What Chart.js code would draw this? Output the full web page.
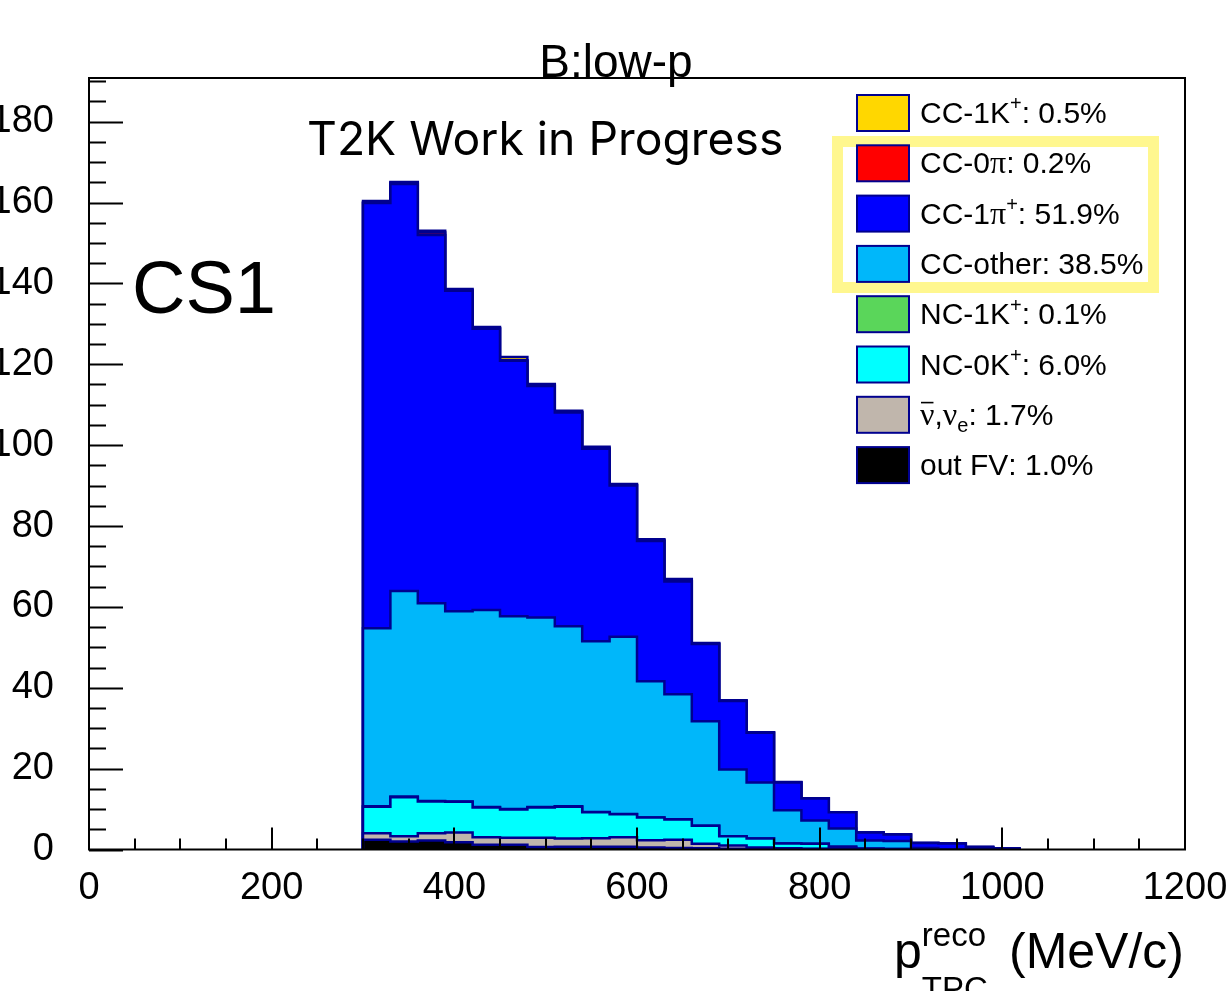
<!DOCTYPE html>
<html><head><meta charset="utf-8">
<script src="https://cdn.jsdelivr.net/npm/chart.js@4.4.1/dist/chart.umd.min.js"></script>
<style>html,body{margin:0;padding:0;background:#fff;overflow:hidden}#wrap{position:relative;width:1230px;height:991px}</style>
</head><body><div id="wrap"><canvas id="c"></canvas></div>
<script>
// Bin edges (MeV/c), 30 MeV/c bins from 300 to 1020
const binEdges = [300,330,360,390,420,450,480,510,540,570,600,630,660,690,720,750,780,810,840,870,900,930,960,990,1020];
// Per-bin contents for bins 300-330 ... 990-1020
const outFV    = [2.4,2.0,2.2,1.8,1.2,1.2,0.6,0.7,0.7,0.7,0.5,0.4,0.3,0.2,0.2,0.1,0.1,0.1,0.1,0,0,0,0,0];
const nuBarNuE = [1.6,1.3,1.8,2.4,1.8,1.7,2.3,2.0,2.1,2.3,1.8,2.0,1.1,0.8,0.3,0.2,0.1,0.1,0,0,0,0,0,0];
const nc0K     = [6.6,9.6,7.9,7.6,7.4,7.0,7.5,7.9,6.4,5.7,5.6,5.0,4.5,2.3,2.2,1.2,1.2,0.5,0.1,0.1,0,0,0,0];
const nc1K     = [0.1,0.2,0.1,0.1,0.1,0.1,0.1,0.1,0.1,0.1,0,0.1,0,0,0,0,0,0,0,0,0,0,0,0];
const ccOther  = [44.0,50.8,48.9,47.0,48.7,47.7,46.9,44.5,42.2,43.8,33.7,30.9,25.8,16.5,13.9,8.2,5.8,4.5,2.0,2.0,0.4,0,0,0];
const cc1pi    = [105.2,100.7,91.1,79.3,69.6,63.2,57.2,52.9,47.6,37.4,34.7,27.9,19.1,16.9,12.3,6.9,5.4,4.0,2.0,1.6,1.2,1.5,0.6,0.3];
const cc0pi    = [0.1,0.3,0.6,0.1,0.1,0.1,0.2,0.1,0.1,0.1,0.2,0.1,0.1,0,0,0,0,0,0,0,0,0,0,0];
const cc1K     = [0.4,0.2,0.4,0.3,0.3,0.8,0.3,0.3,0.4,0.3,0.2,0.5,0.2,0.2,0.1,0.1,0.1,0,0,0,0,0,0,0];

const xTickValues = [0,200,400,600,800,1000,1200];
const yTickValues = [0,20,40,60,80,100,120,140,160,180];

const titleText = 'B:low-p';
const watermark = 'T2K Work in Progress';
const sampleLabel = 'CS1';

// Legend (top to bottom)
const legendPercents = ['0.5%','0.2%','51.9%','38.5%','0.1%','6.0%','1.7%','1.0%'];
const legendNames = [
  [['CC-1K'],['+','sup']],
  [['CC-0'],['\u03C0','sym']],
  [['CC-1'],['\u03C0','sym'],['+','sup']],
  [['CC-other']],
  [['NC-1K'],['+','sup']],
  [['NC-0K'],['+','sup']],
  [['\u03BD','symbar'],[','],['\u03BD','sym'],['e','sub']],
  [['out FV']]
];
const legendDatasetIndex = [7,6,5,4,3,2,1,0];

const series = [
  {label:'out FV', v:outFV, c:'#000000'},
  {label:'nubar,nue', v:nuBarNuE, c:'#C0B6AC'},
  {label:'NC-0K+', v:nc0K, c:'#00FFFF'},
  {label:'NC-1K+', v:nc1K, c:'#5AD65A'},
  {label:'CC-other', v:ccOther, c:'#00B7FA'},
  {label:'CC-1pi+', v:cc1pi, c:'#0000FF'},
  {label:'CC-0pi', v:cc0pi, c:'#FF0000'},
  {label:'CC-1K+', v:cc1K, c:'#FFD700'}
];

// stepped 'after': the point at a bin's upper edge carries that bin's content
const datasets = series.map((s,k)=>({
  label:s.label,
  data: binEdges.map((x,j)=>({x:x, y: j===0 ? 0 : s.v[j-1]})),
  backgroundColor:s.c,
  borderColor:'#00008F',
  borderWidth:2.5,
  fill: k===0 ? 'origin' : '-1',
  stepped:'after',
  pointRadius:0,
  tension:0
}));

const SANS = '"Liberation Sans", Arial, sans-serif';
const SERIF = '"Liberation Serif", "DejaVu Serif", serif';

function drawRich(ctx, parts, x, base, size){
  for (const p of parts){
    const t = p[0], st = p[1]||'';
    let f = size+'px '+SANS, dy = 0;
    if (st==='sup'){ f = Math.round(size*0.68)+'px '+SANS; dy = -size*0.42; }
    else if (st==='sub'){ f = Math.round(size*0.68)+'px '+SANS; dy = size*0.25; }
    else if (st==='sym' || st==='symbar'){ f = Math.round(size*1.05)+'px '+SERIF; }
    ctx.font = f;
    ctx.fillText(t, x, base+dy);
    const w = ctx.measureText(t).width;
    if (st==='symbar'){
      ctx.save(); ctx.lineWidth=1.6; ctx.beginPath();
      ctx.moveTo(x+1, base-size*0.74); ctx.lineTo(x+w-1, base-size*0.74); ctx.stroke(); ctx.restore();
    }
    x += w;
  }
  return x;
}

const decor = {
  id:'decor',
  afterDraw(chart){
    const {ctx, chartArea:a, scales:{x, y}} = chart;
    ctx.save();
    ctx.strokeStyle='#000'; ctx.lineWidth=2;
    ctx.strokeRect(a.left, a.top, a.right-a.left, a.bottom-a.top);
    // inward ticks
    ctx.beginPath();
    for (let v=0; v<=y.max+1e-9; v+=5){
      const py = Math.round(y.getPixelForValue(v))+0.5;
      const len = (v%20===0)?34:17;
      ctx.moveTo(a.left, py); ctx.lineTo(a.left+len, py);
    }
    for (let v=0; v<=x.max; v+=50){
      const px = Math.round(x.getPixelForValue(v));
      const len = (v%200===0)?22:11;
      ctx.moveTo(px, a.bottom); ctx.lineTo(px, a.bottom-len);
    }
    ctx.stroke();

    // title
    ctx.fillStyle='#000';
    ctx.textAlign='center'; ctx.textBaseline='alphabetic';
    ctx.font='46px '+SANS;
    ctx.fillText(titleText, 616, 77);

    // watermark
    ctx.textAlign='left';
    ctx.font='40px Inter, "Noto Sans", sans-serif';
    const w0 = ctx.measureText(watermark).width;
    const fs = (40*476/w0).toFixed(1);
    ctx.font=fs+'px Inter, "Noto Sans", sans-serif';
    ctx.fillText(watermark, 307, 155);

    // CS1
    ctx.font='74px '+SANS;
    ctx.fillText(sampleLabel, 132, 313);

    // axis title
    ctx.font='50px '+SANS;
    ctx.fillText('p', 894, 968);
    const pw = ctx.measureText('p').width;
    ctx.font='33px '+SANS;
    ctx.fillText('reco', 894+pw, 946);
    ctx.fillText('TPC', 894+pw, 1000);
    ctx.font='50px '+SANS;
    ctx.textAlign='right';
    ctx.fillText('(MeV/c)', 1184, 968);
    ctx.textAlign='left';

    // yellow highlight
    ctx.strokeStyle='#FFF78F'; ctx.lineWidth=11;
    ctx.strokeRect(837.5, 141.5, 316, 146);

    // legend
    for (let i=0;i<legendNames.length;i++){
      const cy = 113 + i*50.3;
      const ds = chart.data.datasets[legendDatasetIndex[i]];
      ctx.fillStyle = ds.backgroundColor;
      ctx.fillRect(857, cy-18, 52, 36);
      ctx.strokeStyle='#00008F'; ctx.lineWidth=2;
      ctx.strokeRect(857, cy-18, 52, 36);
      ctx.fillStyle='#000'; ctx.strokeStyle='#000';
      const xe = drawRich(ctx, legendNames[i], 920, cy+10, 30);
      ctx.font='30px '+SANS;
      ctx.fillText(': '+legendPercents[i], xe, cy+10);
    }
    ctx.restore();
  }
};

new Chart(document.getElementById('c'), {
  type:'line',
  data:{datasets},
  options:{
    responsive:true, maintainAspectRatio:false, animation:false,
    layout:{padding:{top:78, right:45, left:0, bottom:0}},
    plugins:{legend:{display:false}, title:{display:false}, tooltip:{enabled:false}},
    scales:{
      x:{type:'linear', min:0, max:1200,
         grid:{display:false, drawTicks:false}, border:{display:false},
         afterBuildTicks:s=>{ s.ticks = xTickValues.map(v=>({value:v})); },
         afterFit:s=>{ s.height = 141.5; s.paddingLeft = 0; s.paddingRight = 0; },
         ticks:{font:{family:'Liberation Sans', size:38}, color:'#000', padding:16, maxRotation:0, autoSkip:false,
                callback:v=>String(v)}},
      y:{type:'linear', stacked:true, min:0, max:190.8,
         grid:{display:false, drawTicks:false}, border:{display:false},
         afterBuildTicks:s=>{ s.ticks = yTickValues.map(v=>({value:v})); },
         afterFit:s=>{ s.width = 89; s.paddingTop = 0; s.paddingBottom = 0; },
         ticks:{font:{family:'Liberation Sans', size:38}, color:'#000', padding:35, autoSkip:false,
                callback:v=>String(v)}}
    }
  },
  plugins:[decor]
});
</script></body></html>
